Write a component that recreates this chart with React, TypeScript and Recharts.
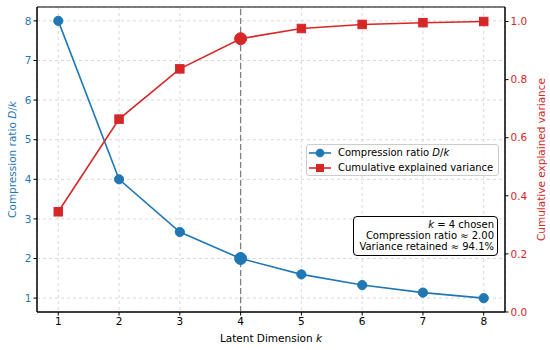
import { ComposedChart, Line, XAxis, YAxis, CartesianGrid, ReferenceLine, ReferenceArea, Legend, Label } from 'recharts';

const dims = [1, 2, 3, 4, 5, 6, 7, 8];
const compression = [8, 4, 2.67, 2, 1.6, 1.33, 1.14, 1];
const cumVariance = [0.345, 0.664, 0.837, 0.941, 0.976, 0.99, 0.996, 1.0];
const leftTicks = [1, 2, 3, 4, 5, 6, 7, 8];
const rightTicks = [0, 0.2, 0.4, 0.6, 0.8, 1.0];
const chosenK = 4;

const data = dims.map((k, i) => ({ k, ratio: compression[i], cum: cumVariance[i] }));

const BLUE = '#1f77b4';
const RED = '#d62728';
const FONT = '"DejaVu Sans", sans-serif';

function BlueDot(props: any) {
  const { cx, cy, payload, index } = props;
  const r = payload.k === chosenK ? 6 : 4.6;
  return <circle key={`b${index}`} cx={cx} cy={cy} r={r} fill={BLUE} stroke={BLUE} />;
}

function RedDot(props: any) {
  const { cx, cy, payload, index } = props;
  if (payload.k === chosenK) {
    return <circle key={`r${index}`} cx={cx} cy={cy} r={6} fill={RED} stroke={RED} />;
  }
  const s = 8.5;
  return <rect key={`r${index}`} x={cx - s / 2} y={cy - s / 2} width={s} height={s} fill={RED} stroke={RED} />;
}

function LegendBox() {
  const row = (color: string, square: boolean, label: any) => (
    <div style={{ display: 'flex', alignItems: 'center', height: 15, whiteSpace: 'nowrap' }}>
      <svg width={22} height={12} style={{ marginRight: 7 }}>
        <line x1={0} y1={6} x2={22} y2={6} stroke={color} strokeWidth={1.6} />
        {square ? <rect x={7} y={2} width={8} height={8} fill={color} /> : <circle cx={11} cy={6} r={4.3} fill={color} />}
      </svg>
      <span>{label}</span>
    </div>
  );
  return (
    <div style={{ border: '1px solid #cccccc', borderRadius: 3, background: 'rgba(255,255,255,0.85)', padding: '0 2px', fontFamily: FONT, fontSize: 10, color: '#000', boxSizing: 'border-box', width: 193, height: 32 }}>
      {row(BLUE, false, <>Compression ratio <i>D</i>/<i>k</i></>)}
      {row(RED, true, 'Cumulative explained variance')}
    </div>
  );
}

export default function App() {
  return (
    <div style={{ position: 'fixed', left: 0, top: 0, width: 550, height: 350, background: '#fff' }}>
      <ComposedChart width={550} height={350} data={data} margin={{ top: 7, right: 0, bottom: 0, left: 0 }}>
        <CartesianGrid yAxisId="left" stroke="#cfcfcf" strokeDasharray="3 3" strokeWidth={0.8} />
        <XAxis
          dataKey="k"
          type="number"
          domain={[0.65, 8.35]}
          ticks={dims}
          height={38}
          stroke="#000"
          tickSize={3.5}
          tick={{ fill: '#000', fontSize: 10.5, fontFamily: FONT }}
        >
          <Label
            content={(p: any) => {
              const vb = p.viewBox;
              return (
                <text x={vb.x + vb.width / 2} y={342} textAnchor="middle" fontSize={10.5} fontFamily={FONT} fill="#000">
                  Latent Dimension <tspan fontStyle="italic">k</tspan>
                </text>
              );
            }}
          />
        </XAxis>
        <YAxis
          yAxisId="left"
          type="number"
          domain={[0.65, 8.35]}
          ticks={leftTicks}
          width={37}
          stroke="#000"
          tickSize={3.5}
          tick={{ fill: BLUE, fontSize: 10.5, fontFamily: FONT }}
        >
          <Label
            content={(p: any) => {
              const vb = p.viewBox;
              const cy = vb.y + vb.height / 2;
              return (
                <text x={15.5} y={cy} transform={`rotate(-90, 15.5, ${cy})`} textAnchor="middle" fontSize={10.5} fontFamily={FONT} fill={BLUE}>
                  Compression ratio <tspan fontStyle="italic">D</tspan>/<tspan fontStyle="italic">k</tspan>
                </text>
              );
            }}
          />
        </YAxis>
        <YAxis
          yAxisId="right"
          orientation="right"
          type="number"
          domain={[0, 1.05]}
          ticks={rightTicks}
          tickFormatter={(v: number) => v.toFixed(1)}
          width={45}
          stroke="#000"
          tickSize={3.5}
          tick={{ fill: RED, fontSize: 10.5, fontFamily: FONT }}
        >
          <Label
            content={(p: any) => {
              const vb = p.viewBox;
              const cy = vb.y + vb.height / 2;
              return (
                <text x={545} y={cy} transform={`rotate(-90, 545, ${cy})`} textAnchor="middle" fontSize={10.5} fontFamily={FONT} fill={RED}>
                  Cumulative explained variance
                </text>
              );
            }}
          />
        </YAxis>
        <ReferenceArea yAxisId="left" x1={0.65} x2={8.35} y1={0.65} y2={8.35} fill="none" stroke="#000" strokeWidth={1} />
        <ReferenceLine yAxisId="left" x={chosenK} stroke="#808080" strokeDasharray="6 3" strokeWidth={1.3} />
        <Line
          yAxisId="left"
          dataKey="ratio"
          stroke={BLUE}
          strokeWidth={1.6}
          dot={BlueDot}
          activeDot={false}
          isAnimationActive={false}
        />
        <Line
          yAxisId="right"
          dataKey="cum"
          stroke={RED}
          strokeWidth={1.6}
          dot={RedDot}
          activeDot={false}
          isAnimationActive={false}
        />
        <Legend
          layout="vertical"
          align="center"
          verticalAlign="middle"
          content={() => <LegendBox />}
          wrapperStyle={{ left: 306, top: 144, width: 193, height: 32 }}
        />
      </ComposedChart>
      <div
        style={{
          position: 'absolute',
          left: 353,
          top: 216,
          width: 145,
          height: 40,
          boxSizing: 'border-box',
          border: '1px solid #000',
          borderRadius: 4,
          background: '#fff',
          fontFamily: FONT,
          fontSize: 10,
          lineHeight: '11px',
          textAlign: 'right',
          padding: '2px 3px 2px 3px',
          color: '#000',
          whiteSpace: 'nowrap',
        }}
      >
        <div><i>k</i> = 4 chosen</div>
        <div>Compression ratio ≈ 2.00</div>
        <div>Variance retained ≈ 94.1%</div>
      </div>
    </div>
  );
}
